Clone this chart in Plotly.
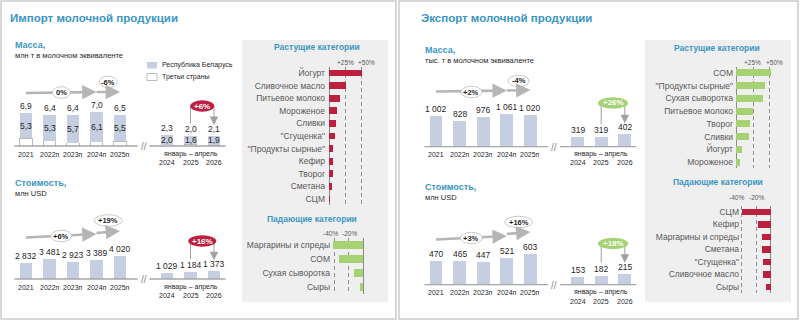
import plotly.graph_objects as go

W, H = 800, 321
FONT = "Liberation Sans, Arial, Helvetica, sans-serif"
TITLE_BLUE = "#3b96c3"
BAR_BLUE = "#c5cfe1"
RED = "#bd1f3f"
GREEN = "#a6d274"
DARK = "#1f1f1f"
MUTED = "#595959"
GRID = "#8f8f8f"
BOX = "#efefef"
FRAME = "#cbcbcb"
ARROW = "#b5b5b5"

# ---------------- data ----------------
years = ["2021", "2022п", "2023п", "2024п", "2025п"]
ytd_years = ["2024", "2025", "2026"]
ytd_caption = "январь – апрель"

imp_mass_total = [6.9, 6.4, 6.4, 7.0, 6.5]
imp_mass_belarus = [5.3, 5.3, 5.7, 6.1, 5.5]
imp_mass_total_ytd = [2.3, 2.0, 2.1]
imp_mass_belarus_ytd = [2.0, 1.6, 1.9]
imp_cost = [2832, 3481, 2923, 3389, 4020]
imp_cost_ytd = [1029, 1184, 1373]
exp_mass = [1002, 828, 976, 1061, 1020]
exp_mass_ytd = [319, 319, 402]
exp_cost = [470, 465, 447, 521, 603]
exp_cost_ytd = [153, 182, 215]

imp_mass_trend = ["0%", "-6%"]
imp_mass_ytd_change = "+6%"
imp_cost_trend = ["+6%", "+19%"]
imp_cost_ytd_change = "+16%"
exp_mass_trend = ["+2%", "-4%"]
exp_mass_ytd_change = "+26%"
exp_cost_trend = ["+3%", "+16%"]
exp_cost_ytd_change = "+18%"

imp_up_cats = ["Йогурт", "Сливочное масло", "Питьевое молоко", "Мороженое", "Сливки",
               "\"Сгущенка\"", "\"Продукты сырные\"", "Кефир", "Творог", "Сметана", "СЦМ"]
imp_up_vals = [52, 26, 17, 12, 11, 10, 7, 7, 6, 4, 1.5]
imp_down_cats = ["Маргарины и спреды", "СОМ", "Сухая сыворотка", "Сыры"]
imp_down_vals = [-41, -33, -13, -4]
exp_up_cats = ["СОМ", "\"Продукты сырные\"", "Сухая сыворотка", "Питьевое молоко",
               "Творог", "Сливки", "Йогурт", "Мороженое"]
exp_up_vals = [51, 43, 40, 25, 21, 19, 9, 6]
exp_down_cats = ["СЦМ", "Кефир", "Маргарины и спреды", "Сметана", "\"Сгущенка\"",
                 "Сливочное масло", "Сыры"]
exp_down_vals = [-39, -17, -12, -12, -11, -11, -7]

legend_names = ["Республика Беларусь", "Третьи страны"]

# ---------------- helpers ----------------
def X(px):
    return px / W


def Y(py):
    return 1 - py / H


fig = go.Figure()
layout = {}
shapes = []
annots = []
_n = [0]
GAP = "·"
CATS = years + [GAP] + ytd_years


def new_axes():
    _n[0] += 1
    s = "" if _n[0] == 1 else str(_n[0])
    return "x" + s, "y" + s, "xaxis" + s, "yaxis" + s


def font(size, color=DARK):
    return dict(size=size, color=color, family=FONT)


def label(px, py, s, size, color=DARK, bold=False, xanchor="left"):
    annots.append(dict(x=X(px), y=Y(py), xref="paper", yref="paper",
                       text=f"<b>{s}</b>" if bold else s, showarrow=False,
                       xanchor=xanchor, yanchor="middle", font=font(size, color)))


def fmt_dec(v):
    return f"{v:.1f}".replace(".", ",")


def fmt_int(v):
    return f"{v:,}".replace(",", " ")


def ellipse(xs, xi, py, w, h, fill, line_color=None):
    shapes.append(dict(type="circle", xref=xs, xsizemode="pixel", xanchor=xi,
                       x0=-w / 2, x1=w / 2, yref="paper", y0=Y(py + h / 2), y1=Y(py - h / 2),
                       fillcolor=fill, line=dict(color=line_color or fill, width=0.8 if line_color else 0),
                       layer="above"))


def arrowhead(xs, xi, py, dx, dy, width, size, color):
    annots.append(dict(x=xi, y=Y(py), xref=xs, yref="paper", ax=dx, ay=dy,
                       axref="pixel", ayref="pixel", text="", showarrow=True,
                       arrowhead=2, arrowsize=size, arrowwidth=width, arrowcolor=color, standoff=0))


def column_chart(totals, totals_ytd, fmt, geo, trend, ytd_change, bubble_color,
                 inner=None, inner_ytd=None):
    xs, ys, xk, yk = new_axes()
    x0, x1, base, scale, top = geo["x0"], geo["x1"], geo["base"], geo["scale"], geo["top"]
    slot = (x1 - x0) / len(CATS)
    layout[xk] = dict(domain=[X(x0), X(x1)], type="category", categoryorder="array",
                      categoryarray=CATS, range=[-0.5, len(CATS) - 0.5], anchor=ys,
                      visible=False, fixedrange=True)
    layout[yk] = dict(domain=[Y(base), Y(top)], range=[0, (base - top) / scale], anchor=xs,
                      visible=False, fixedrange=True)
    xcats = years + ytd_years
    vals = totals + totals_ytd
    idx = [CATS.index(c) for c in xcats]
    if inner is not None:
        inn = inner + inner_ytd
        rest = [round(t - b, 3) for t, b in zip(vals, inn)]
        fig.add_bar(x=xcats, y=rest, xaxis=xs, yaxis=ys, width=0.55, name=legend_names[1],
                    marker=dict(color="white", line=dict(color="#a9a9a9", width=0.8)))
        fig.add_bar(x=xcats, y=inn, xaxis=xs, yaxis=ys, width=0.55, name=legend_names[0],
                    marker=dict(color=BAR_BLUE, line=dict(width=0)))
        for i, r, b in zip(idx, rest, inn):
            annots.append(dict(x=i, y=r + b / 2, xref=xs, yref=ys, text=fmt(b), showarrow=False,
                               font=font(8.5)))
    else:
        fig.add_bar(x=xcats, y=vals, xaxis=xs, yaxis=ys, width=0.55,
                    marker=dict(color=BAR_BLUE, line=dict(width=0)))
    for i, v in zip(idx, vals):
        annots.append(dict(x=i, y=v, xref=xs, yref=ys, yshift=7, text=fmt(v), showarrow=False,
                           yanchor="middle", font=font(8.5)))
    # category labels
    for c, i in zip(years, idx[:5]):
        annots.append(dict(x=i, y=Y(geo["cat_py"]), xref=xs, yref="paper", text=c,
                           showarrow=False, yanchor="middle", font=font(7)))
    yi = idx[5:]
    annots.append(dict(x=yi[1], y=Y(geo["cap_py"]), xref=xs, yref="paper", text=ytd_caption,
                       showarrow=False, yanchor="middle", font=font(7)))
    for c, i in zip(ytd_years, yi):
        annots.append(dict(x=i, y=Y(geo["yr_py"]), xref=xs, yref="paper", text=c,
                           showarrow=False, yanchor="middle", font=font(7)))
    # baseline with break
    g = CATS.index(GAP)
    for a, b in ((-0.5, g - 0.25), (g + 0.25, len(CATS) - 0.5)):
        shapes.append(dict(type="line", xref=xs, yref="paper", x0=a, x1=b, y0=Y(base), y1=Y(base),
                           line=dict(color="#a6a6a6", width=1.3), layer="above"))
    annots.append(dict(x=g, y=Y(base + 0.5), xref=xs, yref="paper", text="//", showarrow=False,
                       yanchor="middle", font=font(10, "#8a8a8a")))
    # trend arrows + bubbles
    for lab, (i0, i1, py0, py1, bi, bpy, bw) in zip(trend, geo["trend"]):
        back = 0.25
        shapes.append(dict(type="line", xref=xs, yref="paper", x0=i0, x1=i1 - back,
                           y0=Y(py0), y1=Y(py1 + (py0 - py1) * back / (i1 - i0)),
                           line=dict(color=ARROW, width=2.6), layer="above"))
        arrowhead(xs, i1, py1, -10, (py0 - py1) * 10 / ((i1 - i0) * slot), 2.6, 1.1, ARROW)
    for lab, (i0, i1, py0, py1, bi, bpy, bw) in zip(trend, geo["trend"]):
        ellipse(xs, bi, bpy, bw, 11.5, "white", "#bdbdbd")
        annots.append(dict(x=bi, y=Y(bpy), xref=xs, yref="paper", text=f"<b>{lab}</b>",
                           showarrow=False, yanchor="middle", font=font(7.5)))
    # ytd change bubble with connector
    bx, bpy, bw, bh = geo["ytd_bubble"]
    start_py = base - totals_ytd[1] * scale - 13
    tip_py = base - totals_ytd[2] * scale - 11
    lc = dict(color="#a0a0a0", width=1)
    shapes.append(dict(type="line", xref=xs, yref="paper", x0=yi[1], x1=yi[1],
                       y0=Y(start_py), y1=Y(bpy), line=lc, layer="above"))
    shapes.append(dict(type="line", xref=xs, yref="paper", x0=yi[1], x1=yi[2],
                       y0=Y(bpy), y1=Y(bpy), line=lc, layer="above"))
    shapes.append(dict(type="line", xref=xs, yref="paper", x0=yi[2], x1=yi[2],
                       y0=Y(bpy), y1=Y(tip_py - 3), line=lc, layer="above"))
    arrowhead(xs, yi[2], tip_py, 0, -6, 1, 1.7, "#a0a0a0")
    ellipse(xs, bx, bpy, bw, bh, bubble_color)
    annots.append(dict(x=bx, y=Y(bpy), xref=xs, yref="paper", text=f"<b>{ytd_change}</b>",
                       showarrow=False, yanchor="middle", font=font(8, "white")))
    return xs, ys


def hbar_chart(cats, vals, color, geo, ticks):
    xs, ys, xk, yk = new_axes()
    zero, k = geo["zero"], geo["k"]
    layout[xk] = dict(domain=[X(geo["x0"]), X(geo["x1"])],
                      range=[(geo["x0"] - zero) / k, (geo["x1"] - zero) / k], anchor=ys,
                      tickvals=[t[0] for t in ticks], showticklabels=False, showgrid=True,
                      griddash="4px,3px", gridcolor=GRID, gridwidth=1, zeroline=True,
                      zerolinecolor="#8a8a8a", zerolinewidth=1, showline=False, ticks="",
                      fixedrange=True)
    layout[yk] = dict(domain=[Y(geo["ybot"]), Y(geo["ytop"])], anchor="free",
                      position=X(geo["label_end"] + 2), type="category", categoryorder="array",
                      categoryarray=cats, autorange="reversed", showgrid=False, zeroline=False,
                      showline=False, ticks="", tickfont=font(8.5, MUTED), fixedrange=True)
    fig.add_bar(x=vals, y=cats, orientation="h", xaxis=xs, yaxis=ys, width=0.55,
                marker=dict(color=color, line=dict(width=0)))
    for tv, tt, shift in ticks:
        annots.append(dict(x=tv, y=Y(geo["tick_py"]), xref=xs, yref="paper", xshift=shift,
                           text=tt, showarrow=False, yanchor="middle", font=font(6.5, MUTED)))


# ---------------- frames & boxes ----------------
for (a, b) in ((1, 396), (399, 798)):
    shapes.append(dict(type="rect", xref="paper", yref="paper", x0=X(a), x1=X(b), y0=Y(319), y1=Y(1),
                       line=dict(color=FRAME, width=1.5), fillcolor="rgba(0,0,0,0)", layer="below"))
for (a, b) in ((242, 388), (645, 791)):
    shapes.append(dict(type="rect", xref="paper", yref="paper", x0=X(a), x1=X(b), y0=Y(302), y1=Y(40),
                       line=dict(width=0), fillcolor=BOX, layer="below"))

# ---------------- titles ----------------
label(8, 18, "Импорт молочной продукции", 11.5, TITLE_BLUE, bold=True)
label(419, 18, "Экспорт молочной продукции", 11.5, TITLE_BLUE, bold=True)
label(13, 45, "Масса,", 9, TITLE_BLUE, bold=True)
label(13, 55, "млн т в молочном эквиваленте", 7.5)
label(423, 50, "Масса,", 9, TITLE_BLUE, bold=True)
label(423, 60, "тыс. т в молочном эквиваленте", 7.5)
label(13, 183, "Стоимость,", 9, TITLE_BLUE, bold=True)
label(13, 193, "млн USD", 7.5)
label(423, 187, "Стоимость,", 9, TITLE_BLUE, bold=True)
label(423, 197, "млн USD", 7.5)
label(317, 47, "Растущие категории", 8.5, TITLE_BLUE, bold=True, xanchor="center")
label(312, 219, "Падающие категории", 8.5, TITLE_BLUE, bold=True, xanchor="center")
label(717, 48, "Растущие категории", 8.5, TITLE_BLUE, bold=True, xanchor="center")
label(718, 182, "Падающие категории", 8.5, TITLE_BLUE, bold=True, xanchor="center")

# legend swatches
shapes.append(dict(type="rect", xref="paper", yref="paper", x0=X(147), x1=X(157), y0=Y(68.5), y1=Y(62),
                   fillcolor=BAR_BLUE, line=dict(width=0)))
shapes.append(dict(type="rect", xref="paper", yref="paper", x0=X(147), x1=X(157), y0=Y(80.5), y1=Y(73.5),
                   fillcolor="white", line=dict(color="#a9a9a9", width=0.8)))
label(160, 65.5, legend_names[0], 7)
label(160, 77.5, legend_names[1], 7)

# ---------------- column charts ----------------
geoA = dict(x0=14.25, x1=225.75, base=146, scale=4.8, top=60, cat_py=154, cap_py=153.5, yr_py=162.5,
            trend=[(0, 3, 93, 92, 1.5, 92.5, 18), (3, 4, 92, 92, 3.5, 82, 18)],
            ytd_bubble=(7.5, 106, 24, 11.5))
geoB = dict(x0=14.25, x1=225.75, base=279, scale=0.0057, top=195, cat_py=287, cap_py=287, yr_py=295.5,
            trend=[(0, 3, 237.5, 234, 1.5, 236, 21), (3, 4, 233, 231, 3.5, 220.5, 28)],
            ytd_bubble=(7.5, 241, 28, 11.5))
geoC = dict(x0=424.2, x1=636.6, base=146.7, scale=0.0308, top=60, cat_py=155, cap_py=153.5, yr_py=163,
            trend=[(0, 3, 91.5, 90.5, 1.5, 92, 21), (3, 4, 90.5, 90, 3.5, 81, 21)],
            ytd_bubble=(7.5, 103, 30, 11.5))
geoD = dict(x0=424.2, x1=636.6, base=284.7, scale=0.0505, top=195, cat_py=292, cap_py=291.5, yr_py=301,
            trend=[(0, 3, 239.5, 236, 1.5, 238, 22), (3, 4, 234, 232, 3.5, 222, 28)],
            ytd_bubble=(7.5, 243.5, 30, 11.5))

column_chart(imp_mass_total, imp_mass_total_ytd, fmt_dec, geoA, imp_mass_trend, imp_mass_ytd_change, RED,
             inner=imp_mass_belarus, inner_ytd=imp_mass_belarus_ytd)
column_chart(imp_cost, imp_cost_ytd, fmt_int, geoB, imp_cost_trend, imp_cost_ytd_change, RED)
column_chart(exp_mass, exp_mass_ytd, fmt_int, geoC, exp_mass_trend, exp_mass_ytd_change, GREEN)
column_chart(exp_cost, exp_cost_ytd, fmt_int, geoD, exp_cost_trend, exp_cost_ytd_change, GREEN)

# ---------------- category bar charts ----------------
hbar_chart(imp_up_cats, imp_up_vals, RED,
           dict(zero=329, k=0.64, x0=327, x1=385, ytop=66.7, ybot=205.3, label_end=323, tick_py=62),
           [(25, "+25%", 0), (50, "+50%", 5)])
hbar_chart(imp_down_cats, imp_down_vals, GREEN,
           dict(zero=363, k=0.725, x0=331, x1=366, ytop=238, ybot=294, label_end=328, tick_py=233),
           [(-40, "-40%", -4), (-20, "-20%", 1)])
hbar_chart(exp_up_cats, exp_up_vals, GREEN,
           dict(zero=736.3, k=0.673, x0=734, x1=788, ytop=66.6, ybot=168.4, label_end=731, tick_py=62),
           [(25, "+25%", -1), (50, "+50%", 5)])
hbar_chart(exp_down_cats, exp_down_vals, RED,
           dict(zero=770.7, k=0.725, x0=740, x1=774, ytop=205.75, ybot=293.25, label_end=737, tick_py=197),
           [(-40, "-40%", -5), (-20, "-20%", 0)])

fig.update_layout(width=W, height=H, margin=dict(l=0, r=0, t=0, b=0), paper_bgcolor="white",
                  plot_bgcolor="rgba(0,0,0,0)", showlegend=False, barmode="stack",
                  font=dict(family=FONT, color=DARK), shapes=shapes, annotations=annots, **layout)
fig.write_html("out.html")
